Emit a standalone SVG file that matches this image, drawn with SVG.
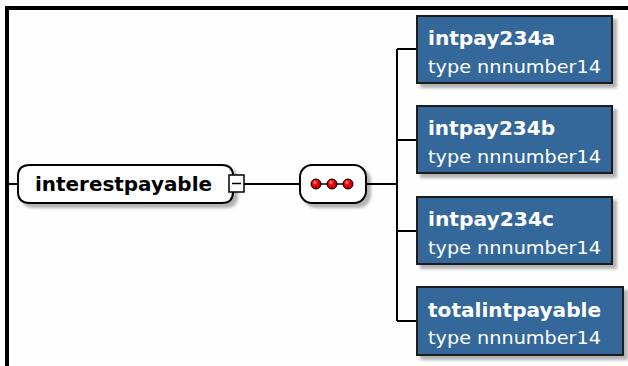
<svg xmlns="http://www.w3.org/2000/svg" width="628" height="366" viewBox="0 0 628 366">
<defs>
<filter id="sh" x="-10%" y="-10%" width="130%" height="140%">
<feGaussianBlur in="SourceAlpha" stdDeviation="1.5"/>
<feOffset dx="4" dy="4" result="b"/>
<feComponentTransfer><feFuncA type="linear" slope="0.3"/></feComponentTransfer>
<feMerge><feMergeNode/><feMergeNode in="SourceGraphic"/></feMerge>
</filter>
<radialGradient id="dot" cx="0.4" cy="0.35" r="0.6">
<stop offset="0" stop-color="#ffb0b0"/>
<stop offset="0.4" stop-color="#ff0000"/>
<stop offset="1" stop-color="#b00000"/>
</radialGradient>
</defs>
<style>
.ln{stroke:#000;stroke-width:2;fill:none}
.box{fill:#35679a;stroke:#1a1a1a;stroke-width:2}
.nm{font-family:"DejaVu Sans",Verdana,sans-serif;font-weight:bold;font-size:19px;fill:#fff}
.ty{font-family:"DejaVu Sans",Verdana,sans-serif;font-size:18px;fill:#fff}
.el{font-family:"DejaVu Sans",Verdana,sans-serif;font-weight:bold;font-size:19px;fill:#000}
</style>
<rect width="628" height="366" fill="#fefefe"/>
<g id="frame">
<rect x="5" y="6" width="623" height="4" fill="#000"/>
<rect x="5" y="6" width="4" height="360" fill="#000"/>
</g>
<g id="connectors">
<line class="ln" x1="9" y1="184" x2="18" y2="184"/>
<line class="ln" x1="244" y1="184" x2="300" y2="184"/>
<line class="ln" x1="366" y1="184" x2="397" y2="184"/>
<line class="ln" x1="397" y1="49" x2="397" y2="321"/>
<line class="ln" x1="397" y1="49" x2="417" y2="49"/>
<line class="ln" x1="397" y1="140" x2="417" y2="140"/>
<line class="ln" x1="397" y1="231" x2="417" y2="231"/>
<line class="ln" x1="397" y1="321" x2="417" y2="321"/>
</g>
<g id="interestpayable">
<path d="M30,165 L222,165 Q233,165 233,176 L233,192 Q233,203 222,203 L30,203 Q18,203 18,192 L18,176 Q18,165 30,165 Z" fill="#fff" stroke="#000" stroke-width="2" filter="url(#sh)"/>
<text class="el" x="35" y="191" textLength="177" lengthAdjust="spacingAndGlyphs">interestpayable</text>
<rect x="229" y="175" width="15" height="17" fill="#fff" stroke="#000" stroke-width="1.5"/>
<line x1="232" y1="183.5" x2="241" y2="183.5" stroke="#000" stroke-width="1.5"/>
</g>
<g id="sequence">
<rect x="300" y="165" width="66" height="38" rx="12" ry="12" fill="#fff" stroke="#000" stroke-width="2" filter="url(#sh)"/>
<line x1="316" y1="184" x2="348" y2="184" stroke="#000" stroke-width="1.5"/>
<circle cx="316" cy="184" r="5" fill="url(#dot)" stroke="#000" stroke-width="1"/>
<circle cx="332" cy="184" r="5" fill="url(#dot)" stroke="#000" stroke-width="1"/>
<circle cx="348" cy="184" r="5" fill="url(#dot)" stroke="#000" stroke-width="1"/>
</g>
<g id="intpay234a">
<rect class="box" x="417" y="16" width="195" height="67" filter="url(#sh)"/>
<text class="nm" x="428" y="45" textLength="127" lengthAdjust="spacingAndGlyphs">intpay234a</text>
<text class="ty" x="428" y="73" textLength="173" lengthAdjust="spacingAndGlyphs">type nnnumber14</text>
</g>
<g id="intpay234b">
<rect class="box" x="417" y="106" width="195" height="67" filter="url(#sh)"/>
<text class="nm" x="428" y="135" textLength="127" lengthAdjust="spacingAndGlyphs">intpay234b</text>
<text class="ty" x="428" y="163" textLength="173" lengthAdjust="spacingAndGlyphs">type nnnumber14</text>
</g>
<g id="intpay234c">
<rect class="box" x="417" y="197" width="195" height="67" filter="url(#sh)"/>
<text class="nm" x="428" y="226" textLength="126" lengthAdjust="spacingAndGlyphs">intpay234c</text>
<text class="ty" x="428" y="254" textLength="173" lengthAdjust="spacingAndGlyphs">type nnnumber14</text>
</g>
<g id="totalintpayable">
<rect class="box" x="417" y="287" width="206" height="68" filter="url(#sh)"/>
<text class="nm" x="428" y="317" textLength="173" lengthAdjust="spacingAndGlyphs">totalintpayable</text>
<text class="ty" x="428" y="344" textLength="173" lengthAdjust="spacingAndGlyphs">type nnnumber14</text>
</g>
</svg>
